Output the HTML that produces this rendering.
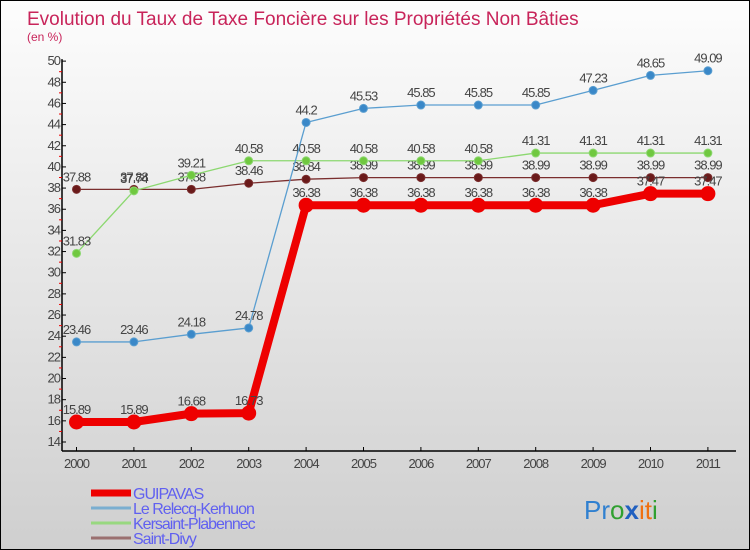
<!DOCTYPE html>
<html><head><meta charset="utf-8"><style>
body{margin:0;}
#c{width:748px;height:548px;border:1px solid #000;background:linear-gradient(#fdfdfd,#cfcfcf);position:relative;font-family:"Liberation Sans",sans-serif;overflow:hidden}
svg text{font-family:"Liberation Sans",sans-serif}
</style></head><body>
<div id="c">
<svg id="s" width="748" height="548">
<text x="26" y="24" font-size="19" fill="#c8245a">Evolution du Taux de Taxe Foncière sur les Propriétés Non Bâties</text>
<text x="26" y="40" font-size="12" fill="#c8245a">(en %)</text>
<g id="axes"></g><g id="series"></g>
<g id="legend"></g>
<text x="583" y="518" font-size="26"><tspan fill="#3080d0">Pr</tspan><tspan fill="#30a030">o</tspan><tspan fill="#2060c0" font-weight="bold">x</tspan><tspan fill="#f07010">it</tspan><tspan fill="#30a030">i</tspan></text>
</svg></div>
<script>
const years=["2000","2001","2002","2003","2004","2005","2006","2007","2008","2009","2010","2011"];
const guipavas=[15.89,15.89,16.68,16.73,36.38,36.38,36.38,36.38,36.38,36.38,37.47,37.47];
const relecq=[23.46,23.46,24.18,24.78,44.2,45.53,45.85,45.85,45.85,47.23,48.65,49.09];
const kersaint=[31.83,37.74,39.21,40.58,40.58,40.58,40.58,40.58,41.31,41.31,41.31,41.31];
const divy=[37.88,37.88,37.88,38.46,38.84,38.99,38.99,38.99,38.99,38.99,38.99,38.99];
const yTicks=[14,16,18,20,22,24,26,28,30,32,34,36,38,40,42,44,46,48,50];
const seriesNames=["GUIPAVAS","Le Relecq-Kerhuon","Kersaint-Plabennec","Saint-Divy"];
const NS="http://www.w3.org/2000/svg";
const x=i=>75.5+i*57.4;
const y=v=>441-(v-14)*10.58;
function mk(t,a,p){const e=document.createElementNS(NS,t);for(const k in a)e.setAttribute(k,a[k]);p.appendChild(e);return e;}
const ax=document.getElementById('axes');
let e=mk('line',{x1:61,y1:y(50)-2,x2:61,y2:450,stroke:'#000','stroke-width':1.5},ax);


e=mk('line',{x1:61,y1:450,x2:735,y2:450,stroke:'#000','stroke-width':1.5},ax);


yTicks.forEach(v=>{
 mk('line',{x1:61,y1:y(v),x2:65,y2:y(v),stroke:'#000'},ax);
 mk('line',{x1:58,y1:y(v)+10.58,x2:61,y2:y(v)+10.58,stroke:v>14?'#e00':'none'},ax);
 const t=mk('text',{x:59,y:y(v)+4,'font-size':13,fill:'#444','text-anchor':'end','letter-spacing':'-1'},ax);t.textContent=v;
 
 
});
years.forEach((yr,i)=>{
 mk('line',{x1:x(i),y1:446,x2:x(i),y2:450,stroke:'#000'},ax);
 const t=mk('text',{x:x(i),y:467,'font-size':13,fill:'#444','text-anchor':'middle','letter-spacing':'-1'},ax);t.textContent=yr;
 
 
});
const sg=document.getElementById('series');
function draw(vals,color,w,r,fill,name){
 const g=mk('g',{},sg);
 
 
 mk('polyline',{points:vals.map((v,i)=>x(i)+','+y(v)).join(' '),fill:'none',stroke:color,'stroke-width':w,'stroke-linejoin':'round'},g);
 vals.forEach((v,i)=>{
  const c=mk('circle',{cx:x(i),cy:y(v),r:r,fill:fill,stroke:color,'stroke-width':1},g);
  
  
  const t=mk('text',{x:x(i),y:y(v)-8,'font-size':13,fill:'#444','text-anchor':'middle','letter-spacing':'-1'},g);t.textContent=v;
  
  
 });
}
draw(divy,'#7a2e2e',1.3,4,'#6a1a1a','series-saint-divy');
draw(kersaint,'#8cd870',1.3,4,'#70c840','series-kersaint-plabennec');
draw(relecq,'#5a9ed0',1.3,4,'#3a88c8','series-le-relecq-kerhuon');
draw(guipavas,'#ee0000',8,7,'#ee0000','series-guipavas');
const lg=document.getElementById('legend');
const lc=['#ee0000','#7aaed0','#98d880','#9a7070'],lw=[7,3,3,3];
seriesNames.forEach((n,i)=>{
 const yy=492+i*15;
 mk('line',{x1:90,y1:yy,x2:130,y2:yy,stroke:lc[i],'stroke-width':lw[i]},lg);
 const t=mk('text',{x:132,y:yy+6,'font-size':16,fill:'#6060f0','letter-spacing':'-1'},lg);t.textContent=n;
 
 
});
</script>
</body></html>
